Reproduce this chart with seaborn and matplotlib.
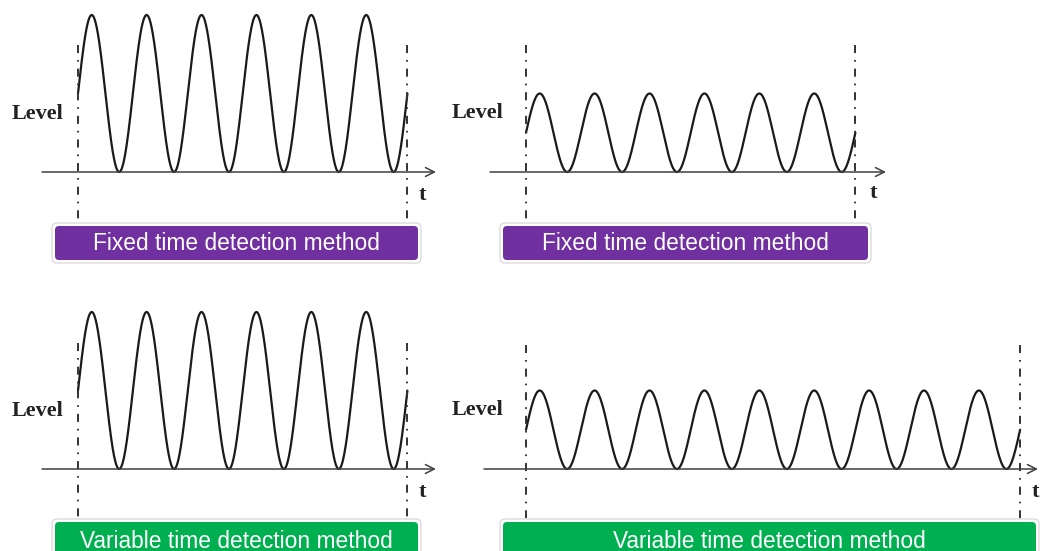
import numpy as np
import pandas as pd
import matplotlib
matplotlib.use('Agg')
import matplotlib.pyplot as plt
import seaborn as sns
from matplotlib.patches import FancyBboxPatch

# data: four detection cases
methods = ['Fixed time detection method', 'Fixed time detection method',
           'Variable time detection method', 'Variable time detection method']
method_colors = ['#7030A0', '#7030A0', '#00B050', '#00B050']
signal_level = [1.0, 0.5, 1.0, 0.5]   # relative peak-to-trough level
window_cycles = [6, 6, 6, 9]          # signal cycles inside the detection window

W, H = 1041, 551
PPT = 54.9    # pixels per cycle
PPL = 157.0   # pixels per unit level

# layout in pixels (figure coords, y down)
panels = [
    dict(rect=(0, 0, 450, 265), origin=(78, 172), axis=(42, 436), vline=(45, 221),
         level=(12, 114), t=(422, 195), box=(55, 226, 418, 260)),
    dict(rect=(445, 0, 900, 265), origin=(526, 172), axis=(490, 886), vline=(45, 221),
         level=(452, 113), t=(873, 193), box=(503, 226, 868, 260)),
    dict(rect=(0, 290, 450, 551), origin=(78, 469), axis=(42, 436), vline=(343, 520),
         level=(12, 411), t=(422, 492), box=(55, 522, 418, 566)),
    dict(rect=(445, 290, 1041, 551), origin=(526, 469), axis=(484, 1038), vline=(345, 520),
         level=(452, 410), t=(1035, 492), box=(503, 522, 1036, 566)),
]

sns.set_theme(style='white')
plt.rcParams['lines.scale_dashes'] = False

fig = plt.figure(figsize=(W / 100, H / 100), dpi=100)
fig.patch.set_facecolor('white')

for i, p in enumerate(panels):
    L, T, R, B = p['rect']
    ox, oy = p['origin']
    tx = lambda x: (x - ox) / PPT
    ly = lambda y: (oy - y) / PPL

    ax = fig.add_axes([L / W, 1 - B / H, (R - L) / W, (B - T) / H])
    ax.set_xlim(tx(L), tx(R))
    ax.set_ylim(ly(B), ly(T))
    ax.axis('off')

    # signal
    t = np.linspace(0, window_cycles[i], 600 * window_cycles[i])
    df = pd.DataFrame({'t': t,
                       'level': signal_level[i] / 2 * (1 + np.sin(2 * np.pi * t))})
    sns.lineplot(data=df, x='t', y='level', ax=ax, color='#1a1a1a', lw=1.6,
                 estimator=None, sort=False)

    # time axis with open arrow
    ax.annotate('', xy=(tx(p['axis'][1]), 0), xytext=(tx(p['axis'][0]), 0),
                arrowprops=dict(arrowstyle='->', color='#404040', lw=1.1,
                                mutation_scale=16, shrinkA=0, shrinkB=0))

    # detection window edges
    for edge in (0, window_cycles[i]):
        ax.plot([edge, edge], [ly(p['vline'][0]), ly(p['vline'][1])],
                color='#333333', lw=1.4, ls=(0, (5.8, 5.0, 1.2, 5.0)))

# overlay for labels and method boxes
ov = fig.add_axes([0, 0, 1, 1])
ov.set_xlim(0, W)
ov.set_ylim(H, 0)
ov.axis('off')

for i, p in enumerate(panels):
    ov.text(p['level'][0], p['level'][1], 'Level', ha='left', va='center',
            fontsize=16, fontweight='bold', family='Liberation Serif', color='#222222')
    ov.text(p['t'][0], p['t'][1], 't', ha='center', va='center',
            fontsize=16, fontweight='bold', family='Liberation Serif', color='#222222')

    x0, y0, x1, y1 = p['box']
    ov.add_patch(FancyBboxPatch((x0 - 3, y0 - 3), x1 - x0 + 6, y1 - y0 + 6,
                                boxstyle='round,pad=0,rounding_size=5',
                                facecolor='white', edgecolor='#dcdcdc', lw=1.0))
    ov.add_patch(FancyBboxPatch((x0, y0), x1 - x0, y1 - y0,
                                boxstyle='round,pad=0,rounding_size=4',
                                facecolor=method_colors[i], edgecolor='none'))
    ty = (y0 + y1) / 2 + 1 if y1 < H else 541
    ov.text((x0 + x1) / 2, ty, methods[i], ha='center', va='center',
            fontsize=16.4, family='Liberation Sans', color='white')

fig.savefig('out.png', dpi=100)
